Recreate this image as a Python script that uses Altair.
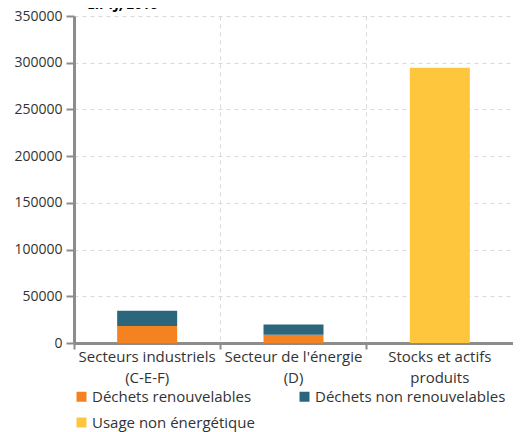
import altair as alt
import pandas as pd

categories = ["Secteurs industriels|(C-E-F)", "Secteur de l'énergie|(D)", "Stocks et actifs|produits"]
series = ["Déchets renouvelables", "Déchets non renouvelables", "Usage non énergétique"]
renouvelables = [18300, 8900, 0]
non_renouvelables = [16300, 11000, 0]
non_energetique = [0, 0, 294700]
colors = ["#F58220", "#2C667C", "#FEC63D"]

rows = []
for i, c in enumerate(categories):
    for j, (s, vals) in enumerate(zip(series, [renouvelables, non_renouvelables, non_energetique])):
        if vals[i] > 0:
            rows.append({"cat": c, "serie": s, "val": vals[i], "ord": j})
df = pd.DataFrame(rows)

FONT = "Open Sans"

chart = alt.Chart(df).mark_bar(size=60).encode(
    x=alt.X("cat:N", sort=categories, title=None,
            scale=alt.Scale(paddingInner=0, paddingOuter=0),
            axis=alt.Axis(labelAngle=0, labelExpr="split(datum.label, '|')",
                          bandPosition=0, grid=True, gridDash=[4, 4], gridColor="#d9d9d9",
                          domainColor="#8c8c8c", domainWidth=3, tickColor="#8c8c8c",
                          tickWidth=2, tickSize=6, labelFontSize=15, labelColor="#333333",
                          labelFont=FONT, labelLineHeight=21, labelPadding=0)),
    y=alt.Y("val:Q", stack="zero", title=None,
            scale=alt.Scale(domain=[0, 350000], nice=False),
            axis=alt.Axis(values=list(range(0, 350001, 50000)), format="d",
                          grid=True, gridDash=[4, 4], gridColor="#d9d9d9",
                          domainColor="#8c8c8c", domainWidth=3, tickColor="#8c8c8c",
                          tickWidth=2, tickSize=8, labelFontSize=14, labelColor="#333333",
                          labelFont=FONT, labelPadding=4)),
    color=alt.Color("serie:N", sort=series, title=None,
                    scale=alt.Scale(domain=series, range=colors),
                    legend=alt.Legend(orient="none", legendX=0, legendY=373, columns=2,
                                      direction="horizontal", labelLimit=300,
                                      columnPadding=42, rowPadding=10, symbolType="square",
                                      symbolSize=100, symbolStrokeWidth=0, labelFontSize=15,
                                      labelFont=FONT, labelColor="#333333", labelOffset=3)),
    order=alt.Order("ord:Q", sort="ascending"),
).properties(
    width=439, height=327,
    title=alt.TitleParams("En TJ, 2018", anchor="start", dx=74, offset=-3,
                          fontStyle="italic", fontWeight="bold", fontSize=14, font=FONT,
                          color="#000000"),
    autosize=alt.AutoSizeParams(type="none"),
    padding={"left": 66, "top": 8, "right": 0, "bottom": 90},
).configure_view(stroke=None)

chart.save("out.html", embed_options={"renderer": "svg", "actions": False})
